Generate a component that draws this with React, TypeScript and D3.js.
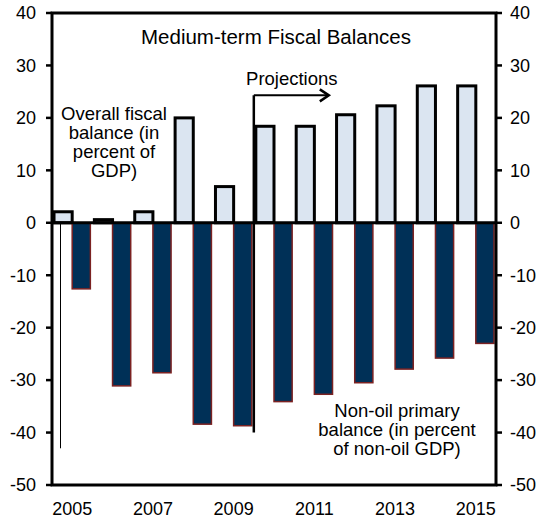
import React from "react";
import * as d3 from "d3";

const years = ["2005","2006","2007","2008","2009","2010","2011","2012","2013","2014","2015"];
const overallBalance = [2.1, 0.6, 2.1, 20.0, 6.9, 18.4, 18.4, 20.6, 22.3, 26.1, 26.1];
const nonOilPrimary = [-12.6, -31.1, -28.6, -38.4, -38.7, -34.1, -32.7, -30.5, -27.9, -25.8, -23.0];
const yTicks = [40, 30, 20, 10, 0, -10, -20, -30, -40, -50];
const yearLabels = ["2005","2007","2009","2011","2013","2015"];

const W = 543, H = 523;
const L = 52, R = 496, T = 13, B = 485;
const FONT = "'Liberation Sans', Arial, sans-serif";

export default function App() {
  const x = d3.scaleBand().domain(years).range([L, R]).paddingInner(0.1).paddingOuter(0.05);
  const band = d3.scaleBand().domain(years).range([L, R]);
  const y = d3.scaleLinear().domain([-50, 40]).range([B, T]);
  const inner = d3.scaleBand().domain(["a", "b"]).range([0, x.bandwidth()]);
  const bw = inner.bandwidth();
  const projX = band("2010")!;
  const thinX = Math.round(band("2005")! + 8) + 0.5;

  return (
    <svg width={W} height={H} style={{ position: "absolute", left: 0, top: 0 }} fontFamily={FONT}>
      <rect x={0} y={0} width={W} height={H} fill="#fff" />
      {years.map((yr, i) => {
        const v = overallBalance[i];
        return (
          <rect key={"o" + yr} x={x(yr)! + inner("a")!} y={y(Math.max(0, v))}
            width={bw} height={Math.abs(y(v) - y(0))}
            fill="#dbe5f1" stroke="#000" strokeWidth={3} />
        );
      })}
      {years.map((yr, i) => {
        const v = nonOilPrimary[i];
        return (
          <rect key={"n" + yr} x={x(yr)! + inner("b")!} y={y(Math.max(0, v))}
            width={bw} height={Math.abs(y(v) - y(0))}
            fill="#003057" stroke="#7b2222" strokeWidth={1.5} />
        );
      })}
      <line x1={L} x2={R} y1={y(0)} y2={y(0)} stroke="#000" strokeWidth={3} />
      <line x1={thinX} x2={thinX} y1={y(0)} y2={y(-43)} stroke="#000" strokeWidth={1} />
      <line x1={projX} x2={projX} y1={y(24.3)} y2={y(-40)} stroke="#000" strokeWidth={2.5} />
      <line x1={projX} x2={projX + 74} y1={y(24.3)} y2={y(24.3)} stroke="#000" strokeWidth={2} />
      <path d={`M${projX + 66},${y(24.3) - 6} L${projX + 75},${y(24.3)} L${projX + 66},${y(24.3) + 6}`}
        fill="none" stroke="#000" strokeWidth={2.5} />
      <text x={projX + 38} y={85} fontSize={18.5} textAnchor="middle">Projections</text>
      <rect x={L} y={T} width={R - L} height={B - T} fill="none" stroke="#000" strokeWidth={3} />
      {yTicks.map((t) => (
        <g key={"t" + t}>
          <line x1={L - 6} x2={L} y1={y(t)} y2={y(t)} stroke="#000" strokeWidth={2.5} />
          <line x1={R} x2={R + 6} y1={y(t)} y2={y(t)} stroke="#000" strokeWidth={2.5} />
          <text x={36} y={y(t)} dy="0.35em" fontSize={18} textAnchor="end">{t}</text>
          <text x={510} y={y(t)} dy="0.35em" fontSize={18} textAnchor="start">{t}</text>
        </g>
      ))}
      {yearLabels.map((yr) => (
        <text key={"x" + yr} x={band(yr)! + band.bandwidth() / 2} y={515} fontSize={18} textAnchor="middle">{yr}</text>
      ))}
      <text x={276} y={43.5} fontSize={20.5} textAnchor="middle">Medium-term Fiscal Balances</text>
      <text fontSize={18.5} textAnchor="middle">
        <tspan x={114} y={120}>Overall fiscal</tspan>
        <tspan x={114} y={139}>balance (in</tspan>
        <tspan x={114} y={158}>percent of</tspan>
        <tspan x={114} y={177}>GDP)</tspan>
      </text>
      <text fontSize={18.5} textAnchor="middle">
        <tspan x={397} y={417}>Non-oil primary</tspan>
        <tspan x={397} y={436}>balance (in percent</tspan>
        <tspan x={397} y={455}>of non-oil GDP)</tspan>
      </text>
    </svg>
  );
}
